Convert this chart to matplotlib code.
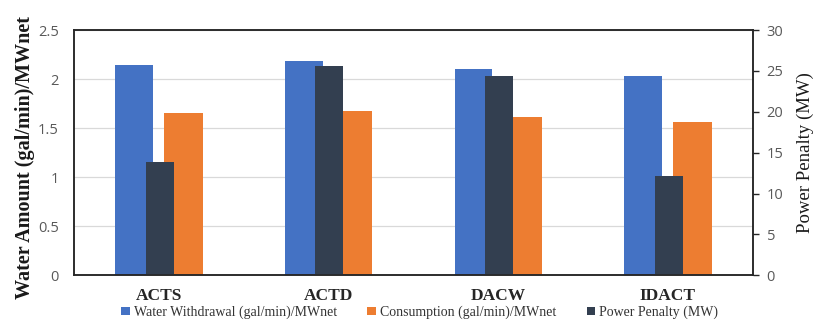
import numpy as np
import matplotlib
matplotlib.use("Agg")
import matplotlib.pyplot as plt

categories = ["ACTS", "ACTD", "DACW", "IDACT"]
withdrawal = [2.14, 2.18, 2.10, 2.03]
consumption = [1.65, 1.67, 1.61, 1.56]
power_penalty = [13.9, 25.6, 24.4, 12.2]

blue = "#4472C4"
orange = "#ED7D31"
dark = "#333F50"

fig = plt.figure(figsize=(8.15, 3.21), dpi=100)
ax = fig.add_axes([0.0908, 0.1424, 0.8328, 0.7641])
ax2 = ax.twinx()

x = np.arange(len(categories))
b1 = ax.bar(x - 0.145, withdrawal, width=0.222, color=blue, zorder=2,
            label="Water Withdrawal (gal/min)/MWnet")
b2 = ax.bar(x + 0.145, consumption, width=0.225, color=orange, zorder=2,
            label="Consumption (gal/min)/MWnet")
b3 = ax2.bar(x + 0.005, power_penalty, width=0.165, color=dark, zorder=2,
             label="Power Penalty (MW)")

ax.set_xlim(-0.5, len(categories) - 0.5)
ax.set_ylim(0, 2.5)
ax2.set_ylim(0, 30)
ax.set_yticks(np.arange(0, 2.51, 0.5))
ax.set_yticklabels(["0", "0.5", "1", "1.5", "2", "2.5"])
ax2.set_yticks(np.arange(0, 31, 5))

ax.yaxis.grid(True, color="#d9d9d9", linewidth=0.9, zorder=0)
ax.set_axisbelow(True)

ax.set_xticks(x)
ax.set_xticklabels(categories, fontfamily="Liberation Serif", fontweight="bold",
                   fontsize=12.5, color="#262626")
ax.tick_params(axis="x", length=0, pad=9)
ax.tick_params(axis="y", length=0, pad=11, labelsize=10.5, labelcolor="#595959")
ax2.tick_params(axis="y", length=4, width=1, direction="out", pad=6,
                labelsize=10.5, labelcolor="#595959", color="#262626")
for a in (ax, ax2):
    for t in a.get_yticklabels():
        t.set_fontfamily("Open Sans")
    for s in a.spines.values():
        s.set_color("#262626")
        s.set_linewidth(1.1)

ax.set_ylabel("Water Amount (gal/min)/MWnet", fontfamily="Liberation Serif",
              fontweight="bold", fontsize=14.5, color="#1a1a1a")
ax.yaxis.set_label_coords(-0.0575, 0.48)
ax2.set_ylabel("Power Penalty (MW)", fontfamily="Liberation Serif",
               fontsize=13.5, color="#1a1a1a", rotation=90)
ax2.yaxis.set_label_coords(1.065, 0.5)

fig.legend(handles=[b1, b2, b3], loc="center", bbox_to_anchor=(0.515, 0.027),
           ncol=3, frameon=False, prop={"family": "Liberation Serif", "size": 10},
           handlelength=0.6, handleheight=0.6, handletextpad=0.3,
           columnspacing=2.2, labelcolor="#333333")

fig.savefig("out.png", dpi=100)
